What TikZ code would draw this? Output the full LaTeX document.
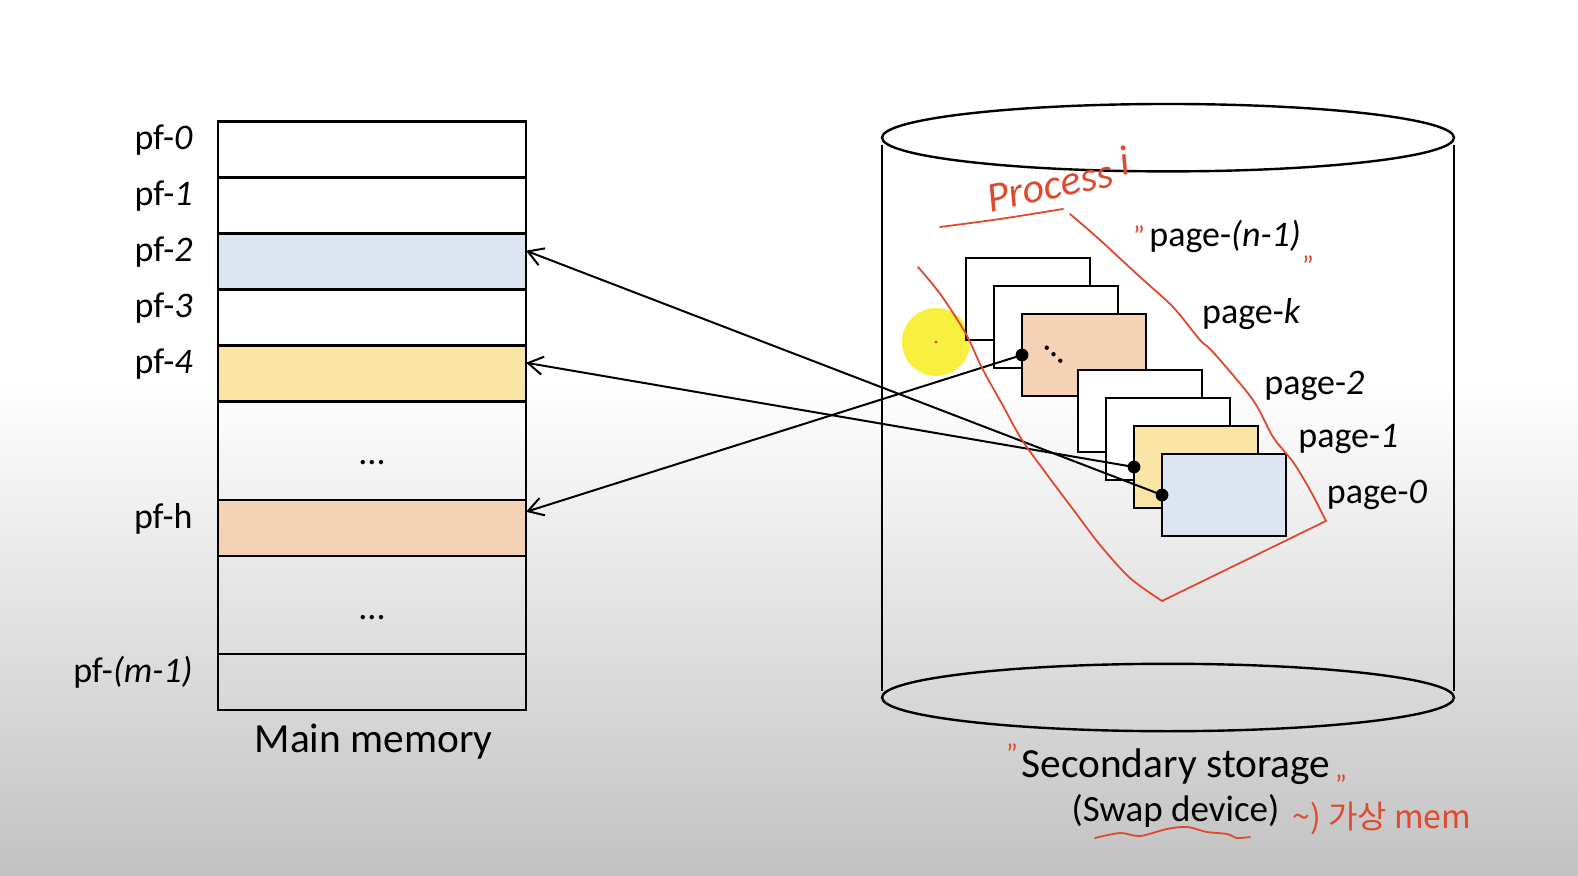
\documentclass[tikz,border=0pt]{standalone}
\usepackage{fontspec}
\setmainfont{Carlito}
\newfontfamily\krfont{Noto Sans CJK KR}
\usetikzlibrary{arrows.meta}
\definecolor{pfblue}{HTML}{DEE5F2}
\definecolor{pfyellow}{HTML}{FAE5A6}
\definecolor{pfpeach}{HTML}{F4D2B6}
\definecolor{redpen}{HTML}{DE4A2E}
\definecolor{hilite}{HTML}{F7EF2A}
\definecolor{bggray}{HTML}{C2C2C2}
\tikzstyle{memrow}=[draw, line width=1.2pt, minimum width=154pt, minimum height=28pt, inner sep=0, outer sep=0]
\tikzstyle{pagebox}=[draw, line width=1.2pt, fill=white, minimum width=62pt, minimum height=40.75pt, inner sep=0, outer sep=0]
\tikzstyle{pflabel}=[anchor=base east, inner sep=0, font=\fontsize{18}{20}\selectfont]
\tikzstyle{pglabel}=[anchor=base west, inner sep=0, font=\fontsize{18}{20}\selectfont]
\tikzstyle{caption}=[anchor=base, inner sep=0, font=\fontsize{20.7}{24}\selectfont]
\tikzstyle{connect}=[line width=1pt, -{Straight Barb[length=7.5pt, width=9pt, line width=1pt]}]
\tikzstyle{pen}=[redpen, line width=0.9pt, line cap=round, line join=round]
\tikzstyle{pentext}=[redpen, inner sep=0]

\begin{document}
\begin{tikzpicture}[x=0.5pt, y=-0.5pt]
  \def\pitch{56}   % row pitch of main memory
  \def\step{28}    % shift between stacked pages

  % BACKGROUND
  \useasboundingbox (0,0) rectangle (1578,876);
  \fill[white] (0,0) rectangle (1578,876);
  \shade[top color=white, bottom color=bggray] (0,380) rectangle (1578,876);

  % MAIN MEMORY
  \foreach \i/\c in {0/none, 1/none, 2/pfblue, 3/none, 4/pfyellow}{  % loop over frames
    \node[memrow, fill=\c] (pf\i) at (372, {149.5+\pitch*\i}) {};
    \node[pflabel] (lpf\i) at (193, {149.5+\pitch*\i}) {pf-\textit{\i}};
  }
  \node[memrow, minimum height=49.5pt] (pfd1) at (372, 450.5) {};
  \node[anchor=base, inner sep=0, font=\fontsize{18}{20}\selectfont] (dd1) at (372, 465) {...};
  \node[memrow, fill=pfpeach] (pfh) at (372, 528) {};
  \node[pflabel] (lpfh) at (193, 528) {pf-h};
  \node[memrow, minimum height=49pt] (pfd2) at (372, 605) {};
  \node[anchor=base, inner sep=0, font=\fontsize{18}{20}\selectfont] (dd2) at (372, 619) {...};
  \node[memrow] (pfm) at (372, 682) {};
  \node[pflabel] (lpfm) at (193, 682) {pf-\textit{(m-1)}};
  \node[caption] (mem) at (373.5, 752.5) {Main memory};

  % SECONDARY STORAGE
  \draw[line width=1.2pt] (1168, 137.7) ellipse [x radius=143pt, y radius=16.85pt];
  \draw[line width=1.2pt] (1168, 697.5) ellipse [x radius=143pt, y radius=16.85pt];
  \draw[line width=1.2pt] (881.7, 145) -- (881.7, 691);
  \draw[line width=1.2pt] (1454.2, 145) -- (1454.2, 691);
  \node[caption] (stor) at (1176, 777) {Secondary storage};
  \node[caption, font=\fontsize{18.5}{22}\selectfont] (swap) at (1175.5, 821.5) {(Swap device)};

  % pointer highlight
  \fill[hilite, opacity=0.9] (936, 342) circle (17pt);
  \fill[redpen] (936, 342) circle (0.8pt);

  % PAGES
  \foreach \k/\c in {0/white, 1/white, 2/pfpeach, 4/white, 5/white, 6/pfyellow, 7/pfblue}{  % back to front
    \node[pagebox, fill=\c] (pg\k) at ({1028+\step*\k}, {299+\step*\k}) {};
  }
  \foreach \d in {0, 1, 2}  % dots on page-k
    \fill ({1046.7+6.8*\d}, {347.7+6.5*\d}) circle (1.1pt);

  % MAPPING
  \draw[connect] (pg7.west) -- (pf2.4);
  \draw[connect] (pg6.west) -- (pf4.4);
  \draw[connect] (pg2.west) -- (pfh.6);
  \foreach \k in {2, 6, 7}
    \fill (pg\k.west) circle (3.2pt);

  \node[pglabel] (lpg0) at (1149, 247) {page-\textit{(n-1)}};
  \node[pglabel] (lpg2) at (1201.7, 324) {page-\textit{k}};
  \node[pglabel] (lpg5) at (1264, 394.5) {page-\textit{2}};
  \node[pglabel] (lpg6) at (1298, 448) {page-\textit{1}};
  \node[pglabel] (lpg7) at (1326.5, 503) {page-\textit{0}};

  % HANDWRITING
  \node[pentext, rotate=12, font=\fontsize{21}{23}\selectfont\itshape] (proc) at (1050, 186) {Process};
  \node[pentext, rotate=12, font=\fontsize{21}{23}\selectfont\itshape] (proci) at (1124, 160) {i};
  \draw[pen] plot[smooth] coordinates {(940,227) (1000,219) (1063,209)};
  \draw[pen] plot[smooth, tension=0.5] coordinates {(918,267) (941,295) (966,334) (982,368) (1002,404)
    (1022,440) (1048,476) (1075,512) (1100,545) (1130,578) (1162,601)};
  \draw[pen] (1162,601) -- (1326,521);
  \draw[pen] plot[smooth, tension=0.5] coordinates {(1326,521) (1310,490) (1293,462) (1273,437) (1253,400)
    (1213,352) (1200,340) (1173,307) (1140,277) (1100,240) (1070,214)};
  \draw[pen] plot[smooth] coordinates {(1095,838) (1120,833) (1140,836) (1167,829) (1187,827)
    (1207,832) (1227,834) (1237,838) (1250,837)};
  \foreach \n/\x/\y in {q1/1139/236, q2/1308/266, q3/1012/754, q4/1341/785}
    \node[pentext, font=\fontsize{14}{16}\selectfont] (\n) at (\x, \y) {''};
  \node[pentext, anchor=base west, font=\krfont\fontsize{16}{18}\selectfont] (virt) at (1292, 828)
    {\textasciitilde) 가상 mem};
\end{tikzpicture}
\end{document}
